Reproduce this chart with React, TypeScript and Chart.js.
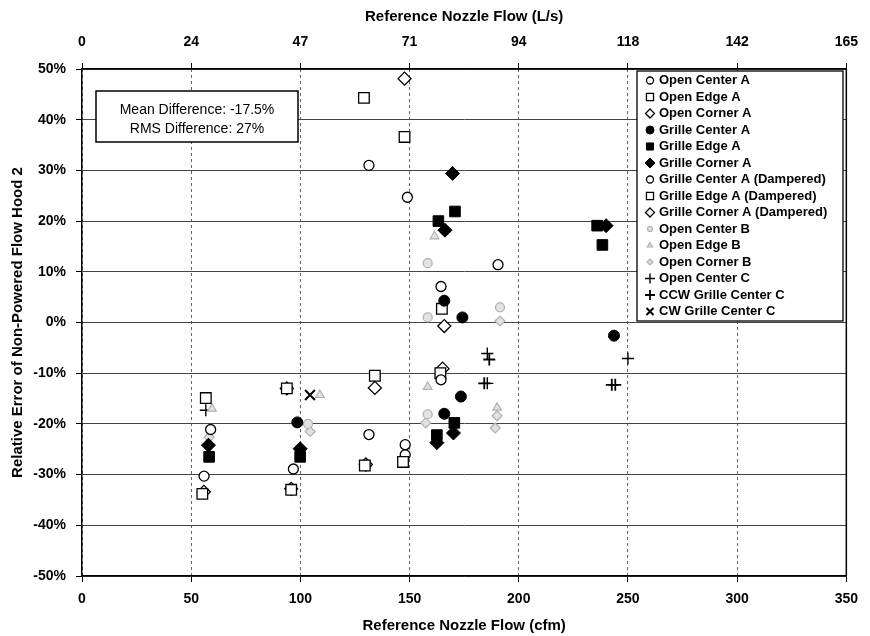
import React, { useEffect, useRef } from 'react';
import { Chart, registerables } from 'chart.js';

Chart.register(...registerables);

// ---- Data (x: Reference Nozzle Flow in cfm, y: relative error in %) ----
const openCenterA: [number, number][] = [
  [55.9, -30.3], [96.8, -28.9], [131.4, -22.1], [148, -24.1], [149, 24.7], [131.4, 31.0],
];
const openEdgeA: [number, number][] = [
  [56.7, -14.9], [55.1, -33.8], [93.8, -13.0], [95.8, -33.0], [129.1, 44.3], [147.7, 36.6], [147, -27.5], [129.5, -28.2],
];
const openCornerA: [number, number][] = [
  [55.8, -33.4], [93.8, -13.0], [95.8, -32.8], [147.7, 48.1], [130, -28.0],
];
const grilleCenterA: [number, number][] = [
  [98.6, -19.7], [165.9, 4.3], [174.2, 1.0], [173.5, -14.6], [165.9, -18.0], [243.6, -2.6],
];
const grilleEdgeA: [number, number][] = [
  [58.2, -26.5], [99.9, -26.5], [170.8, 21.9], [163.2, 20.0], [170.5, -19.8], [162.5, -22.2], [235.9, 19.1], [238.3, 15.3],
];
const grilleCornerA: [number, number][] = [
  [57.9, -24.2], [99.9, -24.9], [169.7, 29.4], [166.2, 18.2], [170.1, -21.8], [162.5, -23.7], [240, 19.1],
];
const grilleCenterADamp: [number, number][] = [
  [58.9, -21.1], [164.4, 7.1], [190.5, 11.4], [164.4, -11.3], [148, -26.1],
];
const grilleEdgeADamp: [number, number][] = [
  [164.8, 2.7], [164.1, -10.0], [134.1, -10.5],
];
const grilleCornerADamp: [number, number][] = [
  [165.9, -0.7], [165.1, -9.1], [134.1, -12.9],
];
const openCenterB: [number, number][] = [
  [158.3, 11.7], [158.3, 1.0], [158.3, -18.1], [103.5, -20.0], [191.4, 3.0],
];
const openEdgeB: [number, number][] = [
  [161.4, 17.0], [158.3, -12.7], [190.1, -16.8], [108.9, -14.3], [59.5, -17.0],
];
const openCornerB: [number, number][] = [
  [157.4, -19.8], [189.2, -20.8], [191.4, 0.3], [104.5, -21.5], [58.2, -22.6], [190.1, -18.4],
];
const openCenterC: [number, number][] = [
  [56.7, -17.3], [185.6, -6.1], [250, -7.1], [185.6, -12.0],
];
const ccwGrilleCenterC: [number, number][] = [
  [186.5, -7.3], [244.2, -12.3], [184.2, -12.0], [242.6, -12.3],
];
const cwGrilleCenterC: [number, number][] = [
  [104.4, -14.3],
];

const topTickLabels = ['0', '24', '47', '71', '94', '118', '142', '165'];
const statLines = ['Mean Difference: -17.5%', 'RMS Difference: 27%'];

type Sym = 'circle' | 'rect' | 'rectRot' | 'cross' | 'crossRot' | 'triangle';
interface SeriesStyle {
  label: string;
  data: [number, number][];
  style: Sym;
  radius: number;
  fill: string;
  stroke: string;
  lw: number;
  lr: number; // legend radius
}

const GRAY_S = '#b0b0b0';
const GRAY_F = '#e2e2e2';

const series: SeriesStyle[] = [
  { label: 'Open Center A', data: openCenterA, style: 'circle', radius: 5, fill: '#ffffff', stroke: '#000', lw: 1.3, lr: 3.5 },
  { label: 'Open Edge A', data: openEdgeA, style: 'rect', radius: 7.5, fill: '#ffffff', stroke: '#000', lw: 1.3, lr: 5 },
  { label: 'Open Corner A', data: openCornerA, style: 'rectRot', radius: 6.5, fill: '#ffffff', stroke: '#000', lw: 1.3, lr: 4.5 },
  { label: 'Grille Center A', data: grilleCenterA, style: 'circle', radius: 5.5, fill: '#000', stroke: '#000', lw: 1, lr: 4 },
  { label: 'Grille Edge A', data: grilleEdgeA, style: 'rect', radius: 7.5, fill: '#000', stroke: '#000', lw: 1, lr: 5 },
  { label: 'Grille Corner A', data: grilleCornerA, style: 'rectRot', radius: 7, fill: '#000', stroke: '#000', lw: 1, lr: 5 },
  { label: 'Grille Center A (Dampered)', data: grilleCenterADamp, style: 'circle', radius: 5, fill: '#ffffff', stroke: '#000', lw: 1.3, lr: 3.5 },
  { label: 'Grille Edge A (Dampered)', data: grilleEdgeADamp, style: 'rect', radius: 7.5, fill: '#ffffff', stroke: '#000', lw: 1.3, lr: 5 },
  { label: 'Grille Corner A (Dampered)', data: grilleCornerADamp, style: 'rectRot', radius: 6.5, fill: '#ffffff', stroke: '#000', lw: 1.3, lr: 4.5 },
  { label: 'Open Center B', data: openCenterB, style: 'circle', radius: 4.5, fill: GRAY_F, stroke: GRAY_S, lw: 1.2, lr: 2.5 },
  { label: 'Open Edge B', data: openEdgeB, style: 'triangle', radius: 5, fill: GRAY_F, stroke: GRAY_S, lw: 1.2, lr: 3 },
  { label: 'Open Corner B', data: openCornerB, style: 'rectRot', radius: 5, fill: GRAY_F, stroke: GRAY_S, lw: 1.2, lr: 3 },
  { label: 'Open Center C', data: openCenterC, style: 'cross', radius: 6, fill: '#000', stroke: '#000', lw: 1.4, lr: 5 },
  { label: 'CCW Grille Center C', data: ccwGrilleCenterC, style: 'cross', radius: 6, fill: '#000', stroke: '#000', lw: 1.8, lr: 5 },
  { label: 'CW Grille Center C', data: cwGrilleCenterC, style: 'crossRot', radius: 7, fill: '#000', stroke: '#000', lw: 2, lr: 5 },
];

const FONT = "'Liberation Sans', Arial, Helvetica, sans-serif";

function drawSym(ctx: CanvasRenderingContext2D, s: SeriesStyle, x: number, y: number, r: number) {
  ctx.save();
  ctx.fillStyle = s.fill;
  ctx.strokeStyle = s.stroke;
  ctx.lineWidth = s.lw;
  ctx.beginPath();
  if (s.style === 'circle') {
    ctx.arc(x, y, r, 0, Math.PI * 2);
    ctx.fill();
    ctx.stroke();
  } else if (s.style === 'rect') {
    const h = r * Math.SQRT1_2;
    ctx.rect(x - h, y - h, 2 * h, 2 * h);
    ctx.fill();
    ctx.stroke();
  } else if (s.style === 'rectRot') {
    ctx.moveTo(x, y - r);
    ctx.lineTo(x + r, y);
    ctx.lineTo(x, y + r);
    ctx.lineTo(x - r, y);
    ctx.closePath();
    ctx.fill();
    ctx.stroke();
  } else if (s.style === 'triangle') {
    ctx.moveTo(x, y - r);
    ctx.lineTo(x + r * 0.87, y + r * 0.5);
    ctx.lineTo(x - r * 0.87, y + r * 0.5);
    ctx.closePath();
    ctx.fill();
    ctx.stroke();
  } else if (s.style === 'cross') {
    ctx.moveTo(x - r, y);
    ctx.lineTo(x + r, y);
    ctx.moveTo(x, y - r);
    ctx.lineTo(x, y + r);
    ctx.stroke();
  } else if (s.style === 'crossRot') {
    const h = r * Math.SQRT1_2;
    ctx.moveTo(x - h, y - h);
    ctx.lineTo(x + h, y + h);
    ctx.moveTo(x + h, y - h);
    ctx.lineTo(x - h, y + h);
    ctx.stroke();
  }
  ctx.restore();
}

const overlayPlugin = {
  id: 'overlay',
  afterDraw(chart: any) {
    const ctx: CanvasRenderingContext2D = chart.ctx;
    const ca = chart.chartArea;
    ctx.save();
    // right border of plot
    ctx.strokeStyle = '#000';
    ctx.lineWidth = 1.5;
    ctx.beginPath();
    ctx.moveTo(ca.right, ca.top);
    ctx.lineTo(ca.right, ca.bottom);
    ctx.stroke();

    // statistics box
    const bx = 96, by = 91, bw = 202, bh = 51;
    ctx.fillStyle = '#fff';
    ctx.fillRect(bx, by, bw, bh);
    ctx.lineWidth = 1.5;
    ctx.strokeRect(bx, by, bw, bh);
    ctx.fillStyle = '#000';
    ctx.font = `14px ${FONT}`;
    ctx.textAlign = 'center';
    ctx.textBaseline = 'middle';
    ctx.fillText(statLines[0], bx + bw / 2, 110);
    ctx.fillText(statLines[1], bx + bw / 2, 129);

    // legend
    const lx = 637, ly = 71, lw = 206, lh = 250;
    ctx.fillStyle = '#fff';
    ctx.fillRect(lx, ly, lw, lh);
    ctx.lineWidth = 1.3;
    ctx.strokeStyle = '#000';
    ctx.strokeRect(lx, ly, lw, lh);
    ctx.font = `bold 13px ${FONT}`;
    ctx.textAlign = 'left';
    ctx.textBaseline = 'middle';
    series.forEach((s, i) => {
      const yy = ly + 9.5 + i * 16.5;
      drawSym(ctx, s, lx + 13, yy, s.lr);
      ctx.fillStyle = '#000';
      ctx.fillText(s.label, lx + 22, yy);
    });
    ctx.restore();
  },
};

export default function App() {
  const ref = useRef<HTMLCanvasElement>(null);
  useEffect(() => {
    document.body.style.margin = '0';
    const canvas = ref.current!;
    Chart.defaults.font.family = FONT;
    const chart = new Chart(canvas, {
      type: 'scatter',
      data: {
        datasets: series.map((s) => ({
          label: s.label,
          data: s.data.map(([x, y]) => ({ x, y })),
          pointStyle: s.style,
          pointRadius: s.radius,
          pointBackgroundColor: s.fill,
          pointBorderColor: s.stroke,
          pointBorderWidth: s.lw,
          showLine: false,
        })),
      },
      options: {
        responsive: false,
        animation: false,
        devicePixelRatio: 1,
        events: [],
        layout: { padding: { left: 0, right: 19, top: 0, bottom: 0 } },
        plugins: {
          legend: { display: false },
          tooltip: { enabled: false },
        },
        scales: {
          x: {
            type: 'linear',
            position: 'bottom',
            min: 0,
            max: 350,
            afterFit: (scale: any) => { scale.height = 60; },
            ticks: { stepSize: 50, color: '#000', font: { size: 14, weight: 'bold' }, padding: 9, maxRotation: 0 },
            grid: { color: '#666', lineWidth: 1, tickLength: 6, tickColor: '#000' },
            border: { color: '#000', width: 1.5, dash: [3, 3] },
            title: {
              display: true,
              text: 'Reference Nozzle Flow (cfm)',
              color: '#000',
              font: { size: 15, weight: 'bold' },
              padding: { top: 0, bottom: 1 },
            },
          },
          x2: {
            type: 'linear',
            position: 'top',
            min: 0,
            max: 350,
            afterFit: (scale: any) => { scale.height = 69; },
            ticks: {
              stepSize: 50,
              color: '#000',
              font: { size: 14, weight: 'bold' },
              padding: 12,
              maxRotation: 0,
              callback: (_v: any, i: number) => topTickLabels[i],
            },
            grid: { drawOnChartArea: false, tickLength: 6, color: '#000' },
            border: { color: '#000', width: 1.5 },
            title: {
              display: true,
              text: 'Reference Nozzle Flow (L/s)',
              color: '#000',
              font: { size: 15, weight: 'bold' },
              padding: { top: 8, bottom: 0 },
            },
          },
          y: {
            type: 'linear',
            min: -50,
            max: 50,
            afterFit: (scale: any) => { scale.width = 82; },
            ticks: {
              stepSize: 10,
              color: '#000',
              font: { size: 14, weight: 'bold' },
              padding: 10,
              callback: (v: any) => `${v}%`,
            },
            grid: { color: '#444', lineWidth: 1, tickLength: 6, tickColor: '#000' },
            border: { color: '#000', width: 1.5 },
            title: {
              display: true,
              text: 'Relative Error of Non-Powered Flow Hood 2',
              color: '#000',
              font: { size: 15, weight: 'bold' },
              padding: { top: 9, bottom: 0 },
            },
          },
        },
      },
      plugins: [overlayPlugin],
    } as any);
    return () => chart.destroy();
  }, []);
  return (
    <div style={{ width: 870, height: 636 }}>
      <canvas ref={ref} width={870} height={636} style={{ width: 870, height: 636, display: 'block' }} />
    </div>
  );
}
